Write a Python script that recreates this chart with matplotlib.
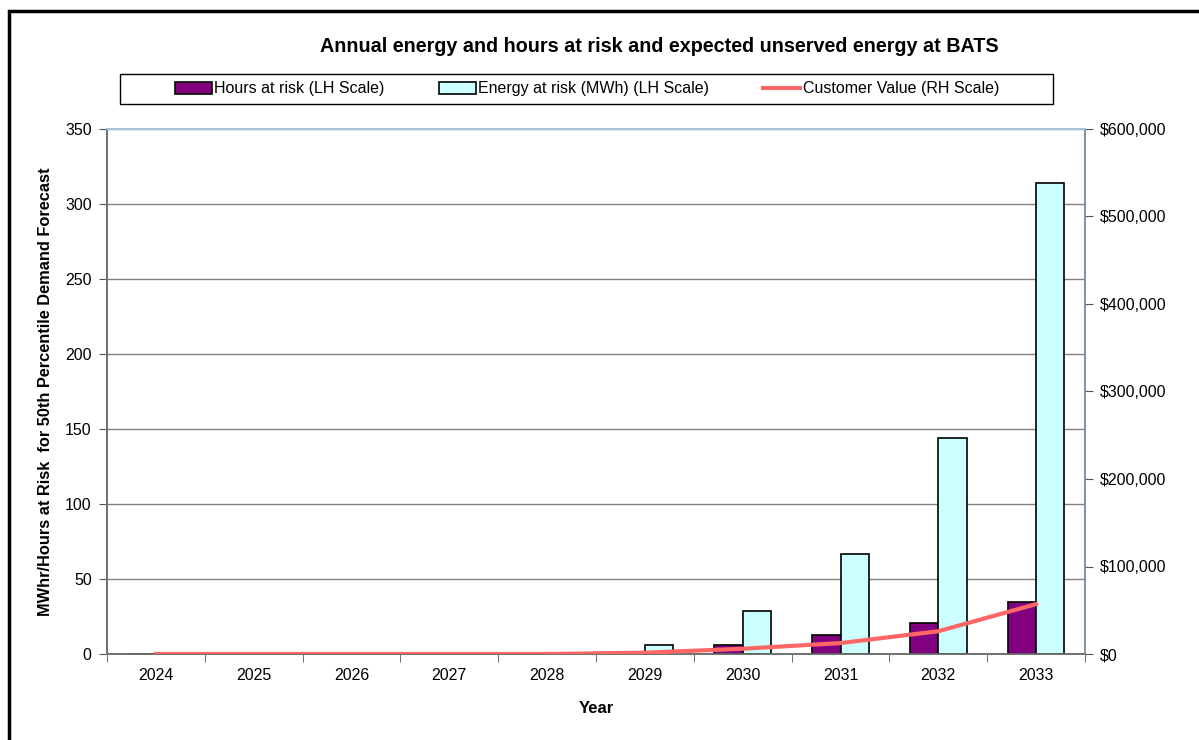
import matplotlib
matplotlib.use("Agg")
import matplotlib.pyplot as plt
from matplotlib.patches import Rectangle, Patch
from matplotlib.lines import Line2D
from matplotlib.ticker import FuncFormatter, MultipleLocator
import numpy as np

years = ["2024", "2025", "2026", "2027", "2028", "2029", "2030", "2031", "2032", "2033"]
hours_at_risk = [0, 0, 0, 0, 0, 1, 6, 13, 21, 35]
energy_at_risk = [0, 0, 0, 0, 0, 6, 29, 67, 144, 314]
customer_value = [0, 0, 0, 0, 0, 1500, 6000, 12500, 26000, 57000]

plt.rcParams['font.family'] = ['Liberation Sans', 'DejaVu Sans']

W, H = 1199, 740
fig = plt.figure(figsize=(W / 100, H / 100), dpi=100)

# outer border
fig.patches.append(Rectangle((9 / W, -0.1), 1.2, 1 - 11 / H + 0.1, transform=fig.transFigure,
                             fill=False, edgecolor='black', linewidth=2.5))
# legend box
fig.patches.append(Rectangle((120 / W, 1 - 104 / H), (1053 - 120) / W, 30 / H,
                             transform=fig.transFigure, fill=False, edgecolor='black',
                             linewidth=1.0))

L, R, T, B = 107, 1085, 129, 654
ax = fig.add_axes([L / W, 1 - B / H, (R - L) / W, (B - T) / H])
ax2 = ax.twinx()

x = np.arange(len(years))
bw = 0.29
ax.bar(x - bw / 2, hours_at_risk, bw, color='#800080', edgecolor='black', linewidth=1.2, zorder=3)
ax.bar(x + bw / 2, energy_at_risk, bw, color='#CCFFFF', edgecolor='black', linewidth=1.2, zorder=3)
ax2.plot(x, customer_value, color='#FF6666', linewidth=3, zorder=4)

ax.set_xlim(-0.5, len(years) - 0.5)
ax.set_ylim(0, 350)
ax2.set_ylim(0, 600000)
ax.yaxis.set_major_locator(MultipleLocator(50))
ax2.yaxis.set_major_locator(MultipleLocator(100000))
ax2.yaxis.set_major_formatter(FuncFormatter(lambda v, p: f"${v:,.0f}"))

ax.set_xticks(x)
ax.set_xticklabels(years)
ax.set_xticks(np.arange(-0.5, len(years), 1), minor=True)
ax.tick_params(axis='x', which='major', length=0, pad=10, labelsize=11.5)
ax.tick_params(axis='x', which='minor', length=6, direction='out', color='#555555')
ax.tick_params(axis='y', length=6, direction='out', color='#555555', labelsize=11.5, pad=5)
ax2.tick_params(axis='y', length=6, direction='out', color='#555555', labelsize=11.5, pad=5)

ax.grid(axis='y', color='#808080', linewidth=1, zorder=0)
ax.set_axisbelow(True)

for a in (ax, ax2):
    a.spines['top'].set_color('#A9C4DC')
    a.spines['left'].set_color('#707070')
    a.spines['right'].set_color('#8090A0')
    a.spines['bottom'].set_color('#707070')
    for s in a.spines.values():
        s.set_linewidth(1.2)

ax.set_xlabel("Year", fontsize=12, fontweight='bold', labelpad=13)
ax.set_ylabel("MWhr/Hours at Risk  for 50th Percentile Demand Forecast", fontsize=11.8,
              fontweight='bold', labelpad=9)

fig.text(659 / W, 1 - 47 / H, "Annual energy and hours at risk and expected unserved energy at BATS",
         ha='center', va='center', fontsize=14.2, fontweight='bold')

handles = [Patch(facecolor='#800080', edgecolor='black', linewidth=1.2),
           Patch(facecolor='#CCFFFF', edgecolor='black', linewidth=1.2),
           Line2D([0], [0], color='#FF6666', linewidth=3)]
labels = ["Hours at risk (LH Scale)", "Energy at risk (MWh) (LH Scale)", "Customer Value (RH Scale)"]
leg = fig.legend(handles, labels, loc='center', bbox_to_anchor=(587 / W, 1 - 89 / H), ncol=3,
                 frameon=False, prop={'size': 11.5},
                 handlelength=2.3, handleheight=0.75, handletextpad=0.15, columnspacing=3.4,
                 borderpad=0.3, borderaxespad=0)

fig.savefig("out.png", dpi=100)
